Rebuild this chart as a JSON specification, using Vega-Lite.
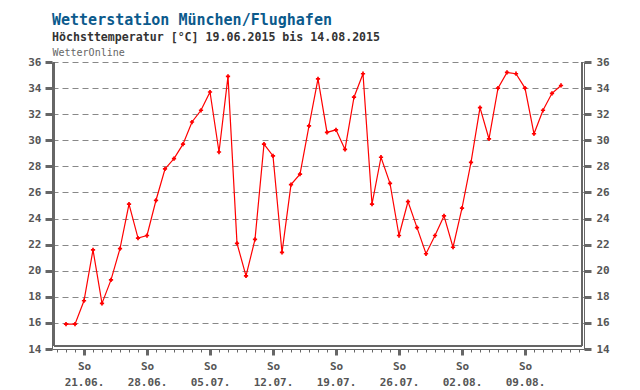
{
  "$schema": "https://vega.github.io/schema/vega-lite/v6.json",
  "width": 532,
  "height": 287,
  "autosize": {"type": "none"},
  "padding": {"left": 52, "top": 62, "right": 56, "bottom": 41},
  "background": "white",
  "config": {"view": {"stroke": null}},
  "title": {
    "text": "Wetterstation München/Flughafen",
    "subtitle": "Höchsttemperatur [°C] 19.06.2015 bis 14.08.2015",
    "anchor": "start",
    "frame": "group",
    "font": "DejaVu Sans Mono",
    "fontSize": 15,
    "fontWeight": "bold",
    "color": "#0b5a8c",
    "subtitleFont": "DejaVu Sans Mono",
    "subtitleFontSize": 11.6,
    "subtitleFontWeight": "bold",
    "subtitleColor": "#333333",
    "subtitlePadding": 4,
    "offset": 3
  },
  "data": {"values": [
    {"d": "2015-06-19", "t": 15.9}, {"d": "2015-06-20", "t": 15.9}, {"d": "2015-06-21", "t": 17.7},
    {"d": "2015-06-22", "t": 21.6}, {"d": "2015-06-23", "t": 17.5}, {"d": "2015-06-24", "t": 19.3},
    {"d": "2015-06-25", "t": 21.7}, {"d": "2015-06-26", "t": 25.1}, {"d": "2015-06-27", "t": 22.5},
    {"d": "2015-06-28", "t": 22.7}, {"d": "2015-06-29", "t": 25.4}, {"d": "2015-06-30", "t": 27.8},
    {"d": "2015-07-01", "t": 28.6}, {"d": "2015-07-02", "t": 29.7}, {"d": "2015-07-03", "t": 31.4},
    {"d": "2015-07-04", "t": 32.3}, {"d": "2015-07-05", "t": 33.7}, {"d": "2015-07-06", "t": 29.1},
    {"d": "2015-07-07", "t": 34.9}, {"d": "2015-07-08", "t": 22.1}, {"d": "2015-07-09", "t": 19.6},
    {"d": "2015-07-10", "t": 22.4}, {"d": "2015-07-11", "t": 29.7}, {"d": "2015-07-12", "t": 28.8},
    {"d": "2015-07-13", "t": 21.4}, {"d": "2015-07-14", "t": 26.6}, {"d": "2015-07-15", "t": 27.4},
    {"d": "2015-07-16", "t": 31.1}, {"d": "2015-07-17", "t": 34.7}, {"d": "2015-07-18", "t": 30.6},
    {"d": "2015-07-19", "t": 30.8}, {"d": "2015-07-20", "t": 29.3}, {"d": "2015-07-21", "t": 33.3},
    {"d": "2015-07-22", "t": 35.1}, {"d": "2015-07-23", "t": 25.1}, {"d": "2015-07-24", "t": 28.7},
    {"d": "2015-07-25", "t": 26.7}, {"d": "2015-07-26", "t": 22.7}, {"d": "2015-07-27", "t": 25.3},
    {"d": "2015-07-28", "t": 23.3}, {"d": "2015-07-29", "t": 21.3}, {"d": "2015-07-30", "t": 22.7},
    {"d": "2015-07-31", "t": 24.2}, {"d": "2015-08-01", "t": 21.8}, {"d": "2015-08-02", "t": 24.8},
    {"d": "2015-08-03", "t": 28.3}, {"d": "2015-08-04", "t": 32.5}, {"d": "2015-08-05", "t": 30.1},
    {"d": "2015-08-06", "t": 34.0}, {"d": "2015-08-07", "t": 35.2}, {"d": "2015-08-08", "t": 35.1},
    {"d": "2015-08-09", "t": 34.0}, {"d": "2015-08-10", "t": 30.5}, {"d": "2015-08-11", "t": 32.3},
    {"d": "2015-08-12", "t": 33.6}, {"d": "2015-08-13", "t": 34.2}
  ]},
  "layer": [
    {
      "mark": {"type": "line", "color": "#ff0000", "strokeWidth": 1.2},
      "encoding": {
        "x": {
          "field": "d", "type": "temporal",
          "scale": {"type": "utc", "domain": [{"year": 2015, "month": 6, "date": 17, "hours": 10, "minutes": 40, "utc": true}, {"year": 2015, "month": 8, "date": 15, "hours": 13, "minutes": 20, "utc": true}]},
          "axis": {
            "orient": "bottom",
            "title": null,
            "grid": false,
            "tickCount": "day",
            "domainColor": "#666666",
            "domainWidth": 1,
            "tickColor": "#666666",
            "tickWidth": {"condition": {"test": "utcday(datum.value) == 0", "value": 3}, "value": 1},
            "tickSize": {"condition": {"test": "utcday(datum.value) == 0", "value": 6}, "value": 3},
            "labelExpr": "utcday(datum.value) == 0 ? ['So', utcFormat(datum.value, '%d.%m.')] : ''",
            "labelOverlap": false,
            "labelBound": false,
            "labelFlush": false,
            "labelFont": "DejaVu Sans Mono",
            "labelFontSize": 11,
            "labelFontWeight": "bold",
            "labelColor": "#555555",
            "labelPadding": 5,
            "labelLineHeight": 16
          }
        },
        "y": {
          "field": "t", "type": "quantitative",
          "scale": {"domain": [14, 36], "nice": false, "zero": false},
          "axis": {
            "orient": "left",
            "title": "WetterOnline",
            "titleAngle": 0,
            "titleAlign": "left",
            "titleBaseline": "alphabetic",
            "titleX": 0,
            "titleY": -7,
            "titleFont": "DejaVu Sans Mono",
            "titleFontSize": 10,
            "titleFontWeight": "normal",
            "titleColor": "#666666",
            "values": [14, 16, 18, 20, 22, 24, 26, 28, 30, 32, 34, 36],
            "grid": true,
            "gridColor": "#888888",
            "gridDash": [6, 4],
            "gridWidth": 1,
            "domainColor": "#666666",
            "tickColor": "#666666",
            "tickWidth": 3,
            "tickSize": 7,
            "labelFont": "DejaVu Sans Mono",
            "labelFontSize": 11,
            "labelFontWeight": "bold",
            "labelColor": "#555555",
            "labelPadding": 4
          }
        }
      }
    },
    {
      "mark": {"type": "point", "shape": "cross", "filled": true, "color": "#ff0000", "size": 18, "opacity": 1},
      "encoding": {
        "x": {"field": "d", "type": "temporal", "axis": null},
        "y": {
          "field": "t", "type": "quantitative",
          "axis": {
            "orient": "right",
            "title": null,
            "values": [14, 16, 18, 20, 22, 24, 26, 28, 30, 32, 34, 36],
            "grid": false,
            "domainColor": "#666666",
            "tickColor": "#666666",
            "tickWidth": 3,
            "tickSize": 7,
            "labelFont": "DejaVu Sans Mono",
            "labelFontSize": 11,
            "labelFontWeight": "bold",
            "labelColor": "#555555",
            "labelPadding": 5
          }
        }
      }
    },
    {
      "mark": {"type": "rule", "color": "#666666", "strokeWidth": 1},
      "encoding": {
        "x": {"datum": {"year": 2015, "month": 6, "date": 17, "hours": 16, "utc": true}, "type": "temporal", "axis": null},
        "y": {"datum": 14.23, "type": "quantitative", "axis": null},
        "y2": {"datum": 36}
      }
    },
    {
      "mark": {"type": "rule", "color": "#666666", "strokeWidth": 1},
      "encoding": {
        "x": {"datum": {"year": 2015, "month": 8, "date": 15, "hours": 8, "utc": true}, "type": "temporal", "axis": null},
        "y": {"datum": 14.23, "type": "quantitative", "axis": null},
        "y2": {"datum": 36}
      }
    },
    {
      "mark": {"type": "rule", "color": "#666666", "strokeWidth": 1},
      "encoding": {
        "x": {"datum": {"year": 2015, "month": 6, "date": 17, "hours": 16, "utc": true}, "type": "temporal", "axis": null},
        "x2": {"datum": {"year": 2015, "month": 8, "date": 15, "hours": 8, "utc": true}},
        "y": {"datum": 14.23, "type": "quantitative", "axis": null}
      }
    }
  ],
  "resolve": {"axis": {"y": "independent", "x": "independent"}}
}
